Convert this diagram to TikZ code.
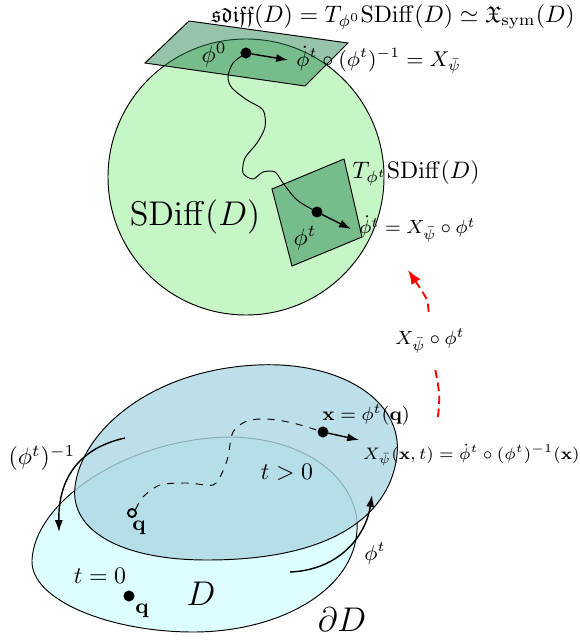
\documentclass[tikz,border=0pt]{standalone}
\usepackage{amsmath}
\usepackage{amssymb}
\usetikzlibrary{arrows.meta}
\newcommand{\plotptradius}{4.2pt}
\definecolor{sdiffgreen}{RGB}{198,245,198}
\definecolor{tangentgreen}{RGB}{32,128,74}
\definecolor{domaincyan}{RGB}{221,254,254}
\definecolor{flowblue}{RGB}{173,215,227}
\tikzset{permpt/.style={circle, draw, fill=black, inner sep=0pt, minimum width=\plotptradius}}
\tikzset{openpt/.style={circle, draw, thick, fill=none, inner sep=0pt, minimum width=3.4pt}}
\tikzset{tangent/.style={draw, fill=tangentgreen, fill opacity=0.47}}
\tikzset{flowarr/.style={-{Latex[length=5pt,width=3.4pt]}, semithick}}
\tikzset{redarr/.style={thick, red, dash pattern=on 3.5pt off 2pt}}

\begin{document}
\begin{tikzpicture}[x=0.42pt,y=-0.42pt]
\useasboundingbox (0,0) rectangle (579,641);

\draw[fill=sdiffgreen] (246,177) circle (138);
\draw[tangent] (189,21) -- (348,43) -- (305,86) -- (145,63) -- cycle;
\draw[tangent] (272,189) -- (344,159) -- (362,237) -- (292,266) -- cycle;

\draw plot[smooth] coordinates {(246,53) (233,63) (228,77) (232,88) (247,100) (263,110) (265,127) (257,143) (245,158) (243,173) (253,179) (263,172) (275,172) (283,183) (297,200) (317,212)};
\node[permpt] (phi0) at (246,53) {};
\node[permpt] (phit) at (317,212) {};

\node[font=\small, anchor=west] (v0) at (288,60) {$\dot\phi^t\circ(\phi^t)^{-1} = X_{\bar\psi}$};
\draw[flowarr] (phi0) -- (v0.west);
\node[font=\footnotesize, anchor=west] (vt) at (351,229) {$\dot\phi^t = X_{\bar\psi}\circ\phi^t$};
\draw[flowarr] (phit) -- (vt.west);

\node (l0) at (214,55) {$\phi^0$};
\node (lt) at (305,238) {$\phi^t$};
\node (tt) at (416,173) {$T_{\phi^t}\mathrm{SDiff}(D)$};
\node[font=\Large] (sd) at (195,217) {$\mathrm{SDiff}(D)$};
\node[font=\fontsize{9.6}{11}\selectfont] (top) at (393,17) {$\mathfrak{sdiff}(D) = T_{\phi^0}\mathrm{SDiff}(D) \simeq \mathfrak{X}_{\mathrm{sym}}(D)$};

\coordinate (r0) at (438,417);
\coordinate (r1) at (408,270);
\node[font=\footnotesize, inner sep=7pt] (rl) at (430,341) {$X_{\bar\psi}\circ\phi^t$};
\draw[redarr] (r0) .. controls (440,395) .. (rl);
\draw[redarr, -{Latex[length=6pt,width=4.5pt]}] (rl) .. controls (428,300) .. (r1);

\draw[fill=domaincyan] (233,437) .. controls (320,440) and (360,490) .. (357,530)
  .. controls (354,590) and (280,632) .. (193,632)
  .. controls (110,632) and (30,600) .. (32,560)
  .. controls (35,500) and (130,437) .. (233,437) -- cycle;
\draw[fill=flowblue, fill opacity=0.8] (257,365) .. controls (340,361) and (403,400) .. (397,455)
  .. controls (391,510) and (340,560) .. (207,560)
  .. controls (120,560) and (70,530) .. (75,487)
  .. controls (81,432) and (150,370) .. (257,365) -- cycle;

\node[openpt] (q0) at (132,513) {};
\node[permpt] (x) at (323,432) {};
\draw[dashed] plot[smooth] coordinates {(q0.north east) (143,497) (160,485) (187,483) (213,485) (222,473) (228,457) (233,432) (247,421) (267,419) (293,423) (x)};
\node[permpt] (q) at (129,596) {};

\node[font=\footnotesize] (xl) at (366,415) {$\mathbf{x} = \phi^t(\mathbf{q})$};
\node[font=\fontsize{7.5}{9}\selectfont, inner sep=1.5pt, anchor=north west] (vx) at (359,440) {$X_{\bar\psi}(\mathbf{x},t) = \dot\phi^t\circ(\phi^t)^{-1}(\mathbf{x})$};
\draw[flowarr] (x) -- (vx.north west);

\coordinate (i0) at (125,438);
\coordinate (i1) at (59,532);
\draw[flowarr] (i0) .. controls (88,446) and (58,470) .. (i1);
\node (il) at (42,458) {$(\phi^t)^{-1}$};

\coordinate (f0) at (290,572);
\coordinate (f1) at (372,495);
\draw[flowarr] (f0) .. controls (340,570) and (366,535) .. (f1);
\node[font=\small] (fl) at (375,554) {$\phi^t$};

\node[font=\small] (ql0) at (139,528) {$\mathbf{q}$};
\node[font=\small] (ql) at (142,611) {$\mathbf{q}$};
\node (tpos) at (287,472) {$t>0$};
\node (tzero) at (100,576) {$t=0$};
\node[font=\Large] (dl) at (201,594) {$D$};
\node[font=\Large] (bdl) at (342,620) {$\partial D$};

\end{tikzpicture}
\end{document}
